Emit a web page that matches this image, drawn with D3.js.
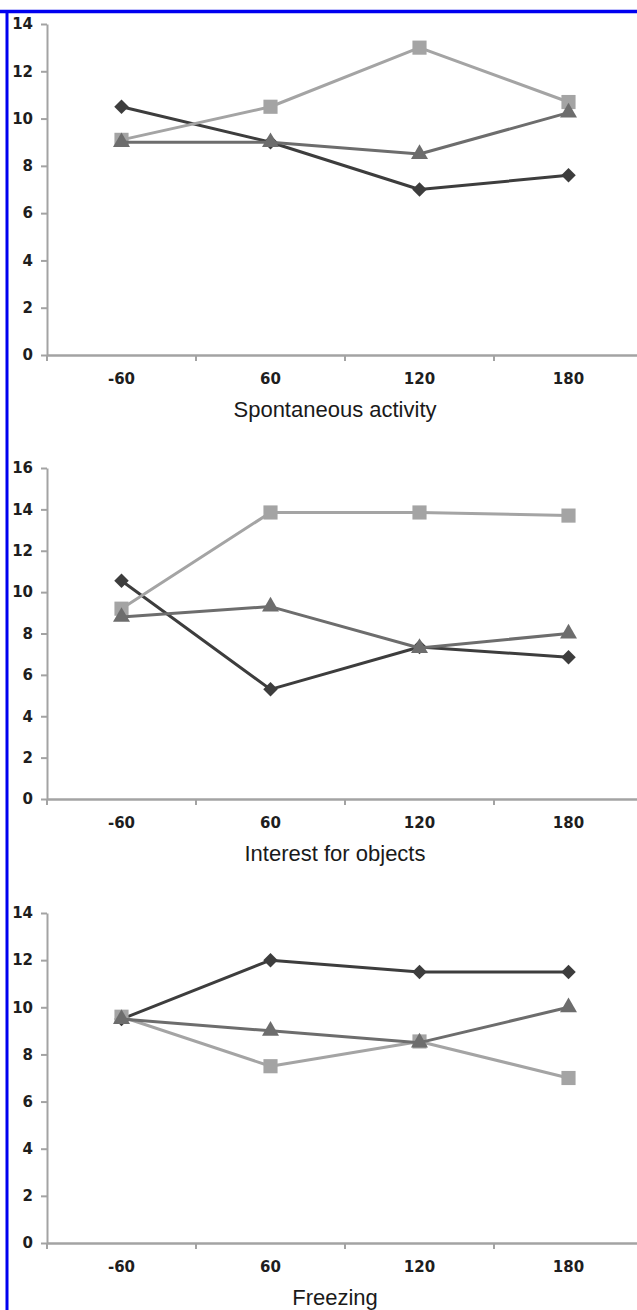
<!DOCTYPE html>
<html>
<head>
<meta charset="utf-8">
<script src="https://cdn.jsdelivr.net/npm/d3@7/dist/d3.min.js"></script>
<style>
    body { margin: 0; background: #fff; }
    .canvas svg { display: block; }
</style>
</head>
<body>
<div class="canvas"></div>
<script>
// data
const categories = ['-60', '60', '120', '180'];
const panelTitles = ['Spontaneous activity', 'Interest for objects', 'Freezing'];
const yMaxes = [14, 16, 14];

// diamond series (dark)
const diamondSpont = [10.5, 9, 7, 7.6];
const diamondInterest = [10.55, 5.3, 7.35, 6.85];
const diamondFreezing = [9.5, 12, 11.5, 11.5];

// square series (light)
const squareSpont = [9.1, 10.5, 13, 10.7];
const squareInterest = [9.2, 13.85, 13.85, 13.7];
const squareFreezing = [9.6, 7.5, 8.55, 7.0];

// triangle series (mid)
const triangleSpont = [9, 9, 8.5, 10.25];
const triangleInterest = [8.8, 9.3, 7.3, 8.0];
const triangleFreezing = [9.5, 9.0, 8.5, 10.0];

const panels = [
    { title: panelTitles[0], yMax: yMaxes[0], series: [diamondSpont, squareSpont, triangleSpont] },
    { title: panelTitles[1], yMax: yMaxes[1], series: [diamondInterest, squareInterest, triangleInterest] },
    { title: panelTitles[2], yMax: yMaxes[2], series: [diamondFreezing, squareFreezing, triangleFreezing] },
];

const styles = [
    { color: '#3d3d3d', symbol: d3.symbolSquare, size: 105, rotate: 45 },
    { color: '#a4a4a4', symbol: d3.symbolSquare, size: 200, rotate: 0 },
    { color: '#6d6d6d', symbol: d3.symbolTriangle, size: 125, rotate: 0 },
];

const width = 637;
const height = 1310;
const plotLeft = 47;
const plotRight = 643;
const panelTops = [24, 468, 913];
const panelBottoms = [355, 799, 1243];

const svg = d3.select('.canvas')
    .append('svg')
    .attr('width', width)
    .attr('height', height)
;

// blue frame (top and left only)
svg.append('line')
    .attr('x1', 0).attr('x2', width)
    .attr('y1', 11.5).attr('y2', 11.5)
    .attr('stroke', '#0000f0')
    .attr('stroke-width', 3.5)
;
svg.append('line')
    .attr('x1', 7).attr('x2', 7)
    .attr('y1', 10).attr('y2', height)
    .attr('stroke', '#0000f0')
    .attr('stroke-width', 3)
;

const x = d3.scaleBand()
    .domain(categories)
    .range([ plotLeft, plotRight ])
    .paddingInner(0)
    .paddingOuter(0)
;

panels.forEach((panel, i) => {
    const y = d3.scaleLinear()
        .domain([ 0, panel.yMax ])
        .range([ panelBottoms[i], panelTops[i] ])
    ;

    const g = svg.append('g');

    // y axis
    const yAxis = d3.axisLeft(y)
        .tickValues(d3.range(0, panel.yMax + 1, 2))
        .tickSize(6)
        .tickSizeOuter(0)
        .tickPadding(8)
    ;
    const yAxisGroup = g.append('g')
        .attr('transform', `translate(${plotLeft}, 0)`)
        .call(yAxis)
    ;

    // x axis: labels centred in bands, tick marks on band edges
    const xAxis = d3.axisBottom(x)
        .tickSize(0)
        .tickSizeOuter(0)
        .tickPadding(18)
    ;
    const xAxisGroup = g.append('g')
        .attr('transform', `translate(0, ${panelBottoms[i]})`)
        .call(xAxis)
    ;
    xAxisGroup.selectAll('.edge')
        .data(categories.map(c => x(c)).concat([ x.range()[1] ]))
        .enter()
        .append('line')
            .attr('class', 'edge')
            .attr('x1', d => d).attr('x2', d => d)
            .attr('y1', 0).attr('y2', 6)
    ;

    [yAxisGroup, xAxisGroup].forEach(ag => {
        ag.attr('font-size', 15).attr('font-family', '"DejaVu Sans", Verdana, sans-serif');
        ag.selectAll('path.domain, line')
            .attr('stroke', '#a3a3a3')
            .attr('stroke-width', 2)
        ;
        ag.selectAll('text')
            .attr('fill', '#1e1e1e')
            .attr('font-weight', 'bold')
        ;
    });
    xAxisGroup.select('path.domain').attr('stroke-width', 2.5);

    // series
    const line = d3.line()
        .x((d, j) => x(categories[j]) + x.bandwidth() / 2)
        .y(d => y(d))
    ;

    panel.series.forEach((values, s) => {
        const st = styles[s];
        g.append('path')
            .datum(values)
            .attr('fill', 'none')
            .attr('stroke', st.color)
            .attr('stroke-width', 3)
            .attr('stroke-linejoin', 'round')
            .attr('d', line)
        ;
        g.selectAll(`.marker-${s}`)
            .data(values)
            .enter()
            .append('path')
                .attr('class', `marker-${s}`)
                .attr('d', d3.symbol().type(st.symbol).size(st.size))
                .attr('transform', (d, j) =>
                    `translate(${x(categories[j]) + x.bandwidth() / 2}, ${y(d)}) rotate(${st.rotate})`)
                .attr('fill', st.color)
        ;
    });

    // axis title
    g.append('text')
        .attr('x', 335)
        .attr('y', panelBottoms[i] + 62)
        .attr('text-anchor', 'middle')
        .attr('fill', '#1a1a1a')
        .style('font-family', '"Liberation Sans", Arial, sans-serif')
        .style('font-size', '22px')
        .text(panel.title)
    ;
});
</script>
</body>
</html>
